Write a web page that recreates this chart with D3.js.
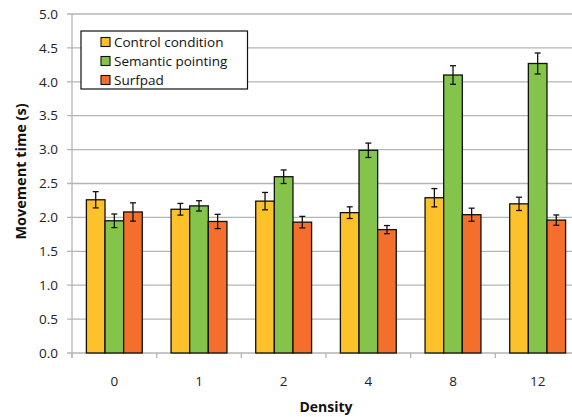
<!DOCTYPE html>
<html><head><meta charset="utf-8">
<script src="https://cdn.jsdelivr.net/npm/d3@7"></script>
<style>body{margin:0;background:#fff}svg{display:block}text{font-family:"Open Sans",sans-serif}</style>
</head><body><svg id="c" width="572" height="417"></svg>
<script>
const categories = ["0","1","2","4","8","12"];
const seriesNames = ["Control condition","Semantic pointing","Surfpad"];
const control = [2.26,2.12,2.24,2.07,2.29,2.20];
const semantic = [1.95,2.17,2.60,2.99,4.10,4.27];
const surfpad = [2.08,1.94,1.93,1.82,2.04,1.96];
const controlErr = [0.12,0.086,0.128,0.086,0.135,0.098];
const semanticErr = [0.10,0.076,0.10,0.106,0.137,0.155];
const surfpadErr = [0.135,0.105,0.085,0.06,0.096,0.076];
const yTicks = [0,0.5,1,1.5,2,2.5,3,3.5,4,4.5,5];
const colors = ["#FDC12A","#84C44A","#F46E2C"];

const series = [control, semantic, surfpad];
const errs = [controlErr, semanticErr, surfpadErr];
const svg = d3.select("#c");
const x0 = 72, x1 = 580, yTop = 14, yBot = 353;
const x = d3.scaleBand().domain(categories).range([x0, x1]).paddingInner(0.34).paddingOuter(0.17);
const xs = d3.scaleBand().domain(d3.range(3)).range([0, x.bandwidth()]);
const y = d3.scaleLinear().domain([0,5]).range([yBot, yTop]);

// gridlines
svg.append("g").selectAll("line").data(yTicks).join("line")
  .attr("x1", x0-5).attr("x2", x1).attr("y1", d=>y(d)).attr("y2", d=>y(d))
  .attr("stroke","#b5b5b5").attr("stroke-width",1.3);
// y axis line
svg.append("line").attr("x1",x0).attr("x2",x0).attr("y1",yTop).attr("y2",yBot+5).attr("stroke","#b5b5b5").attr("stroke-width",1.3);
// x ticks
const xt = d3.scalePoint().domain(d3.range(categories.length+1)).range([x0,x1]);
svg.append("g").selectAll("line").data(d3.range(categories.length+1)).join("line")
  .attr("x1",d=>xt(d)).attr("x2",d=>xt(d)).attr("y1",yBot).attr("y2",yBot+5)
  .attr("stroke","#b5b5b5").attr("stroke-width",1.3);

// y labels
svg.append("g").selectAll("text").data(yTicks).join("text")
  .attr("x",58).attr("y",d=>y(d)).attr("dy","0.35em").attr("text-anchor","end")
  .attr("font-size",13.5).attr("fill","#222").text(d=>d.toFixed(1));
// x labels
svg.append("g").selectAll("text").data(categories).join("text")
  .attr("x",d=>x(d)+x.bandwidth()/2).attr("y",381).attr("dy","0.35em").attr("text-anchor","middle")
  .attr("font-size",13.5).attr("fill","#222").text(d=>d);

// bars
const g = svg.append("g");
series.forEach((vals, si) => {
  g.append("g").selectAll("rect").data(vals).join("rect")
    .attr("x",(d,i)=>x(categories[i])+xs(si)).attr("width",xs.bandwidth())
    .attr("y",d=>y(d)).attr("height",d=>yBot-y(d))
    .attr("fill",colors[si]).attr("stroke","#111").attr("stroke-width",1.3);
});
// error bars
series.forEach((vals, si) => {
  const eg = g.append("g").attr("stroke","#111").attr("stroke-width",1.3);
  vals.forEach((v,i)=>{
    const cx = x(categories[i])+xs(si)+xs.bandwidth()/2;
    const e = errs[si][i];
    eg.append("line").attr("x1",cx).attr("x2",cx).attr("y1",y(v+e)).attr("y2",y(v-e));
    eg.append("line").attr("x1",cx-3).attr("x2",cx+3).attr("y1",y(v+e)).attr("y2",y(v+e));
    eg.append("line").attr("x1",cx-3).attr("x2",cx+3).attr("y1",y(v-e)).attr("y2",y(v-e));
  });
});

// axis titles
svg.append("text").attr("transform","translate(21,"+((yTop+yBot)/2-12)+") rotate(-90)")
  .attr("text-anchor","middle").attr("dy","0.35em").attr("font-size",14.5).attr("font-weight","bold").attr("fill","#111")
  .text("Movement time (s)");
svg.append("text").attr("x",(x0+x1)/2).attr("y",407).attr("dy","0.35em").attr("text-anchor","middle")
  .attr("font-size",14).attr("font-weight","bold").attr("fill","#111").text("Density");

// legend
const lg = svg.append("g");
lg.append("rect").attr("x",81).attr("y",31).attr("width",166.5).attr("height",58)
  .attr("fill","#fff").attr("stroke","#111").attr("stroke-width",1.2);
seriesNames.forEach((n,i)=>{
  const cy = 42 + i*19;
  lg.append("rect").attr("x",101).attr("y",cy-4.5).attr("width",9).attr("height",9)
    .attr("fill",colors[i]).attr("stroke","#111").attr("stroke-width",1.1);
  lg.append("text").attr("x",114).attr("y",cy).attr("dy","0.35em").attr("font-size",13.5).attr("fill","#111").text(n);
});
</script></body></html>
